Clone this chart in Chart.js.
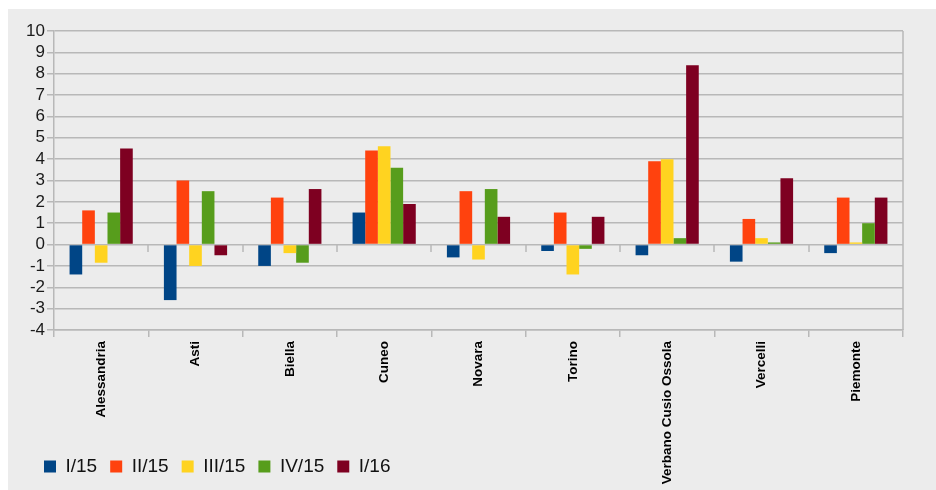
<!DOCTYPE html>
<html>
<head>
<meta charset="utf-8">
<script src="https://cdn.jsdelivr.net/npm/chart.js@4/dist/chart.umd.min.js"></script>
<style>
  body { margin: 0; background: #ffffff; }
  #box { position: absolute; left: 8px; top: 9px; width: 928px; height: 481px; background: #ececec; }
</style>
</head>
<body>
<div id="box"><canvas id="quarters"></canvas></div>
<script>
var provinces = ["Alessandria", "Asti", "Biella", "Cuneo", "Novara", "Torino", "Verbano Cusio Ossola", "Vercelli", "Piemonte"];
var seriesNames = ["I/15", "II/15", "III/15", "IV/15", "I/16"];
var q1_15 = [-1.4, -2.6, -1.0, 1.5, -0.6, -0.3, -0.5, -0.8, -0.4];
var q2_15 = [1.6, 3.0, 2.2, 4.4, 2.5, 1.5, 3.9, 1.2, 2.2];
var q3_15 = [-0.85, -1.0, -0.4, 4.6, -0.7, -1.4, 4.0, 0.3, 0.1];
var q4_15 = [1.5, 2.5, -0.85, 3.6, 2.6, -0.2, 0.3, 0.1, 1.0];
var q1_16 = [4.5, -0.5, 2.6, 1.9, 1.3, 1.3, 8.4, 3.1, 2.2];
var colors = ["#004586", "#ff420e", "#ffd320", "#579d1c", "#7e0021"];

var gridColor = "#b8b8b8";

// frame on the right, ticks hanging from the zero line;
// the long x labels run down beside the legend, so the x box is stretched after layout
var framePlugin = {
    id: 'frame',
    afterLayout: function(chart) {
        var lg = chart.legend;
        lg.left += 13;
        lg.right += 13;
        lg.top -= 4;
        lg.bottom -= 4;
        chart.scales.x.bottom = chart.height;
    },
    afterDraw: function(chart) {
        var ctx = chart.ctx;
        var area = chart.chartArea;
        var x = chart.scales.x;
        var y0 = Math.round(chart.scales.y.getPixelForValue(0));
        ctx.save();
        ctx.strokeStyle = gridColor;
        ctx.lineWidth = 1.5;
        ctx.beginPath();
        ctx.moveTo(area.right, area.top);
        ctx.lineTo(area.right, area.bottom);
        for (var i = 1; i < provinces.length; i++) {
            var px = Math.round((x.getPixelForValue(i - 1) + x.getPixelForValue(i)) / 2);
            ctx.moveTo(px, y0);
            ctx.lineTo(px, y0 + 7);
        }
        ctx.stroke();
        ctx.restore();
    }
};

var data = [q1_15, q2_15, q3_15, q4_15, q1_16];
var datasets = data.map(function(d, i) {
    return {
        label: seriesNames[i],
        data: d,
        backgroundColor: colors[i],
        borderWidth: 0,
        categoryPercentage: 0.67,
        barPercentage: 1.0
    };
});

var ctx = document.getElementById("quarters").getContext('2d');
var chart = new Chart(ctx, {
    type: 'bar',
    data: { labels: provinces, datasets: datasets },
    options: {
        responsive: true,
        maintainAspectRatio: false,
        animation: false,
        layout: { padding: { left: 10, right: 33, top: 22, bottom: 0 } },
        plugins: {
            tooltip: { enabled: false },
            legend: {
                position: 'bottom',
                align: 'start',
                labels: {
                    boxWidth: 12,
                    boxHeight: 12,
                    padding: 13,
                    color: '#111111',
                    font: { family: 'Liberation Sans', size: 19 }
                }
            }
        },
        scales: {
            x: {
                grid: { offset: true, drawOnChartArea: false, tickLength: 7, color: gridColor, lineWidth: 1.5 },
                border: { display: true, color: gridColor, width: 1.5 },
                ticks: {
                    minRotation: 90,
                    maxRotation: 90,
                    autoSkip: false,
                    padding: 4,
                    color: '#000000',
                    font: { family: 'Liberation Sans', size: 13.5, weight: 'bold' }
                },
                afterFit: function(scale) { scale.height = 118; }
            },
            y: {
                min: -4,
                max: 10,
                grid: { color: gridColor, tickLength: 7, lineWidth: 1.5 },
                border: { display: true, color: gridColor, width: 1.5 },
                ticks: {
                    stepSize: 1,
                    autoSkip: false,
                    padding: 2,
                    color: '#1a1a1a',
                    font: { family: 'Liberation Sans', size: 17 }
                },
                afterFit: function(scale) { scale.width = 36; }
            }
        }
    },
    plugins: [framePlugin]
});
</script>
</body>
</html>
